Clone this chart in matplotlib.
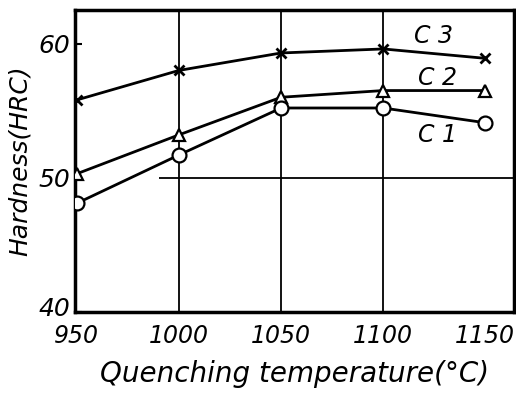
import matplotlib.pyplot as plt
import matplotlib.transforms as mtransforms

temps = [950, 1000, 1050, 1100, 1150]
c1 = [48.1, 51.7, 55.2, 55.2, 54.1]
c2 = [50.3, 53.2, 56.0, 56.5, 56.5]
c3 = [55.8, 58.0, 59.3, 59.6, 58.9]
yticks = [40, 50, 60]

plt.rcParams['font.family'] = ['DejaVu Sans']
plt.rcParams['font.style'] = 'italic'

fig = plt.figure(figsize=(5.16, 4.01), dpi=100)
ax = fig.add_axes([0.145, 0.222, 0.851, 0.753])

# grid pieces as in the printed figure
for t in [1000, 1050, 1100]:
    ax.axvline(t, color='black', lw=1.3, zorder=1)
ax.hlines(50, 990, 1164, color='black', lw=1.3, zorder=1)

ax.plot(temps, c3, color='black', lw=2, marker='x', ms=7, mew=2, zorder=3)
ax.plot(temps, c2, color='black', lw=2, marker='^', ms=8, mfc='white', mew=1.6, zorder=3)
ax.plot(temps, c1, color='black', lw=2, marker='o', ms=10, mfc='white', mew=1.6, zorder=3)

ax.text(1115, 60.6, 'C 3', fontsize=17, ha='left', va='center')
ax.text(1117, 57.4, 'C 2', fontsize=17, ha='left', va='center')
ax.text(1117, 53.2, 'C 1', fontsize=17, ha='left', va='center')

ax.set_xlim(949, 1164)
ax.set_ylim(40, 62.5)
ax.set_xticks(temps)
ax.set_xticklabels([str(t) for t in temps], fontsize=17)
ax.set_yticks(yticks)
ax.set_yticklabels([str(v) for v in yticks], fontsize=18)
ax.tick_params(axis='x', length=0, pad=9)
ax.tick_params(axis='y', direction='in', length=5, width=1.5, pad=3)

# lift the "40" a little, it sits above the corner in the original
lab40 = ax.get_yticklabels()[0]
lab40.set_transform(lab40.get_transform() + mtransforms.ScaledTranslation(0, 4 / 72, fig.dpi_scale_trans))

for s in ax.spines.values():
    s.set_linewidth(2.5)

ax.set_xlabel('Quenching temperature(°C)', fontsize=20, labelpad=8)
ax.set_ylabel('Hardness(HRC)', fontsize=18, labelpad=5)

fig.savefig('out.png', dpi=100)
